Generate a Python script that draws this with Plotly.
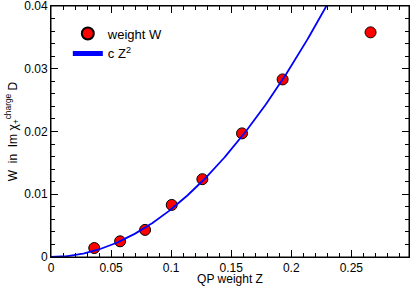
import numpy as np
import plotly.graph_objects as go

# data points: QP weight Z vs weight W
qp_weight_z = [0.036, 0.0575, 0.0783, 0.1005, 0.126, 0.159, 0.1928, 0.266]
weight_w = [0.00143, 0.0025, 0.00432, 0.0083, 0.0124, 0.0197, 0.0283, 0.0358]

# fit curve c Z^2
c_fit = 0.761
z_curve = np.linspace(0, 0.2295, 200)
w_curve = c_fit * z_curve ** 2

x_ticks = [0, 0.05, 0.1, 0.15, 0.2, 0.25]
x_tick_labels = ["0", "0.05", "0.1", "0.15", "0.2", "0.25"]
y_ticks = [0, 0.01, 0.02, 0.03, 0.04]
y_tick_labels = ["0", "0.01", "0.02", "0.03", "0.04"]
x_range = [0, 0.298]
y_range = [0, 0.04]

FONT = "Liberation Sans, Arial, Helvetica, sans-serif"

fig = go.Figure()
fig.add_trace(go.Scatter(
    x=qp_weight_z, y=weight_w, mode="markers", name="weight W",
    marker=dict(size=11, color="#ff0000", line=dict(color="black", width=1)),
))
fig.add_trace(go.Scatter(
    x=z_curve, y=w_curve, mode="lines", name="c Z<sup>2</sup>",
    line=dict(color="#0000ff", width=1.8),
))

axis_common = dict(
    showgrid=False, zeroline=False, showline=True, linecolor="black", linewidth=1,
    mirror="allticks", ticks="inside", ticklen=7, tickwidth=1, tickcolor="black",
    tickfont=dict(family=FONT, size=12, color="black"), automargin=False,
    ticklabeloverflow="allow",
)
x_minor = dict(dtick=0.01, ticks="inside", ticklen=4, tickcolor="black", tickwidth=1)

fig.update_layout(
    xaxis=dict(
        range=x_range, tickmode="array", tickvals=x_ticks, ticktext=x_tick_labels,
        minor=x_minor,
        title=dict(text="QP weight Z", font=dict(family=FONT, size=12, color="black"), standoff=3),
        **axis_common,
    ),
    xaxis2=dict(
        overlaying="x", side="top", range=x_range, tickmode="array", tickvals=x_ticks,
        showticklabels=False, showgrid=False, zeroline=False, showline=True,
        linecolor="black", linewidth=1, ticks="inside", ticklen=7, tickwidth=1,
        tickcolor="black", minor=x_minor, automargin=False,
    ),
    yaxis=dict(
        range=y_range, tickmode="array", tickvals=y_ticks, ticktext=y_tick_labels,
        minor=dict(dtick=0.002, ticks="inside", ticklen=4, tickcolor="black", tickwidth=1),
        title=dict(text="W  in  Im χ<sub>+</sub><sup>charge</sup> D",
                   font=dict(family=FONT, size=12, color="black"), standoff=4),
        **axis_common,
    ),
    shapes=[dict(type="rect", xref="paper", yref="paper", x0=0, x1=1, y0=0, y1=1,
                 line=dict(color="black", width=1), layer="above")],
)

fig.update_layout(
    width=411, height=286,
    margin=dict(l=51, r=2, t=6, b=29),
    paper_bgcolor="white", plot_bgcolor="white",
    showlegend=True,
    legend=dict(x=0.047, y=0.95, xanchor="left", yanchor="top",
                bgcolor="rgba(0,0,0,0)", font=dict(family=FONT, size=13, color="black"),
                tracegroupgap=0, itemsizing="constant"),
)

fig.write_html("out.html", config={"displayModeBar": False},
               post_script="document.body.style.margin='0';")
